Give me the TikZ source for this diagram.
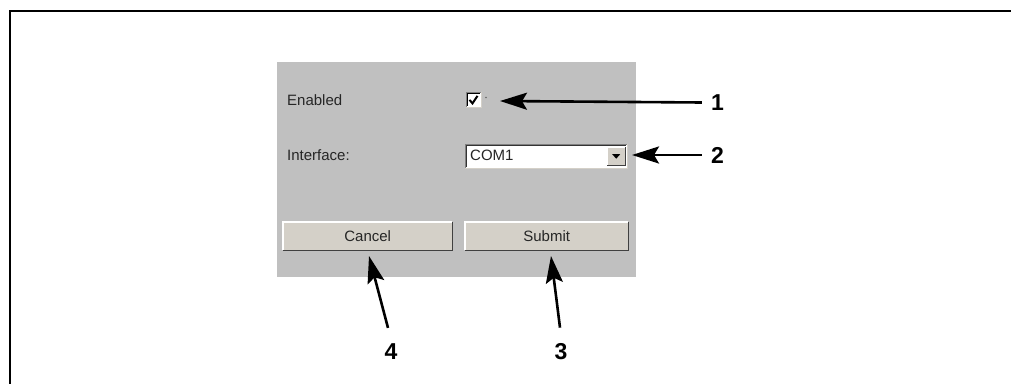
\documentclass[tikz,border=0pt]{standalone}
\usepackage{fontspec}
\setmainfont{Liberation Sans}
\usetikzlibrary{arrows.meta}
\definecolor{panelgray}{HTML}{C0C0C0}
\definecolor{btnface}{HTML}{D4D0C8}
\definecolor{btndark}{HTML}{808080}
\tikzset{
  uitext/.style={font=\fontsize{15}{17}\selectfont, text=black!85, inner sep=0pt},
  callout/.style={font=\fontsize{23}{26}\selectfont\bfseries, inner sep=0pt},
  pointer/.style={line width=2.6pt, -{Stealth[length=27pt,width=17pt,inset=5pt]}},
  btn/.style={fill=btnface, draw=none, minimum height=28pt, inner sep=0pt,
    font=\fontsize{15}{17}\selectfont, text=black!85},
}
\begin{document}
\begin{tikzpicture}[x=1pt,y=-1pt]
\useasboundingbox (0,0) rectangle (1011,383);
\fill[white] (0,0) rectangle (1011,383);
% frame
\draw[line width=2.2pt] (10,384) -- (10,11) -- (1012,11);
% panel
\node[fill=panelgray, minimum width=359pt, minimum height=215pt, inner sep=0pt, anchor=north west] (panel) at (277,62) {};
% labels
\node[uitext, anchor=base west] (en) at (287,105) {Enabled};
\node[uitext, anchor=base west] (if) at (287,160) {Interface:};
% checkbox
\node[fill=white, minimum width=15pt, minimum height=15pt, inner sep=0pt, anchor=north west] (cb) at (466,92) {};
\draw[btndark, line width=1pt] (cb.south west) -- (cb.north west) -- (cb.north east);
\draw[black, line width=1pt] ([shift={(1.5,-1.5)}]cb.south west) -- ([shift={(1.5,1.5)}]cb.north west) -- ([shift={(-1.5,1.5)}]cb.north east);
\draw[btnface, line width=1pt] (cb.north east) -- (cb.south east) -- (cb.south west);
\draw[black, line width=2pt] ([shift={(3.5,-7.5)}]cb.south west) -- ([shift={(6.5,-4)}]cb.south west) -- ([shift={(11.5,-11.5)}]cb.south west);
\fill[black!60] (486,97.5) circle (0.8pt);
% combo box
\node[fill=white, minimum width=162pt, minimum height=24pt, inner sep=0pt, anchor=north west] (combo) at (465,144) {};
\draw[btndark, line width=1pt] (combo.south west) -- (combo.north west) -- (combo.north east);
\draw[black!80, line width=1pt] ([shift={(1,-1)}]combo.south west) -- ([shift={(1,1)}]combo.north west) -- ([shift={(-1,1)}]combo.north east);
\draw[btnface, line width=1pt] (combo.north east) -- (combo.south east) -- (combo.south west);
\node[uitext, anchor=base west] (com) at (470,160) {COM1};
\node[fill=btnface, minimum width=18pt, minimum height=18pt, inner sep=0pt, anchor=north east] (drop) at ([shift={(-2,3)}]combo.north east) {};
\draw[white, line width=1pt] (drop.south west) -- (drop.north west) -- (drop.north east);
\draw[black!75, line width=1pt] (drop.north east) -- (drop.south east) -- (drop.south west);
\fill[black] ([shift={(-4,-2)}]drop.center) -- ([shift={(4,-2)}]drop.center) -- ([shift={(0,2.5)}]drop.center) -- cycle;
% buttons
\node[btn, minimum width=169pt, anchor=north west] (cancel) at (283,222) {Cancel};
\node[btn, minimum width=163pt, anchor=north west] (submit) at (465,222) {Submit};
\foreach \b in {cancel,submit}{
  \draw[white, line width=1.2pt] (\b.south west) -- (\b.north west) -- (\b.north east);
  \draw[black!75, line width=1.5pt] (\b.north east) -- (\b.south east) -- (\b.south west);
}
% callouts
\node[callout] (l1) at (717.5,102.5) {1};
\node[callout] (l2) at (717.5,155) {2};
\node[callout] (l3) at (561,352) {3};
\node[callout] (l4) at (391,352) {4};
\coordinate (t1) at (500,101);
\coordinate (t2) at (632,155);
\coordinate (t3) at (551,256);
\coordinate (t4) at (369,256);
\draw[pointer] ([xshift=-9pt]l1.west) -- (t1);
\draw[pointer] ([xshift=-9pt]l2.west) -- (t2);
\draw[pointer] ([shift={(-1,-16)}]l3.north) -- (t3);
\draw[pointer] ([shift={(-3,-16)}]l4.north) -- (t4);
\end{tikzpicture}
\end{document}
